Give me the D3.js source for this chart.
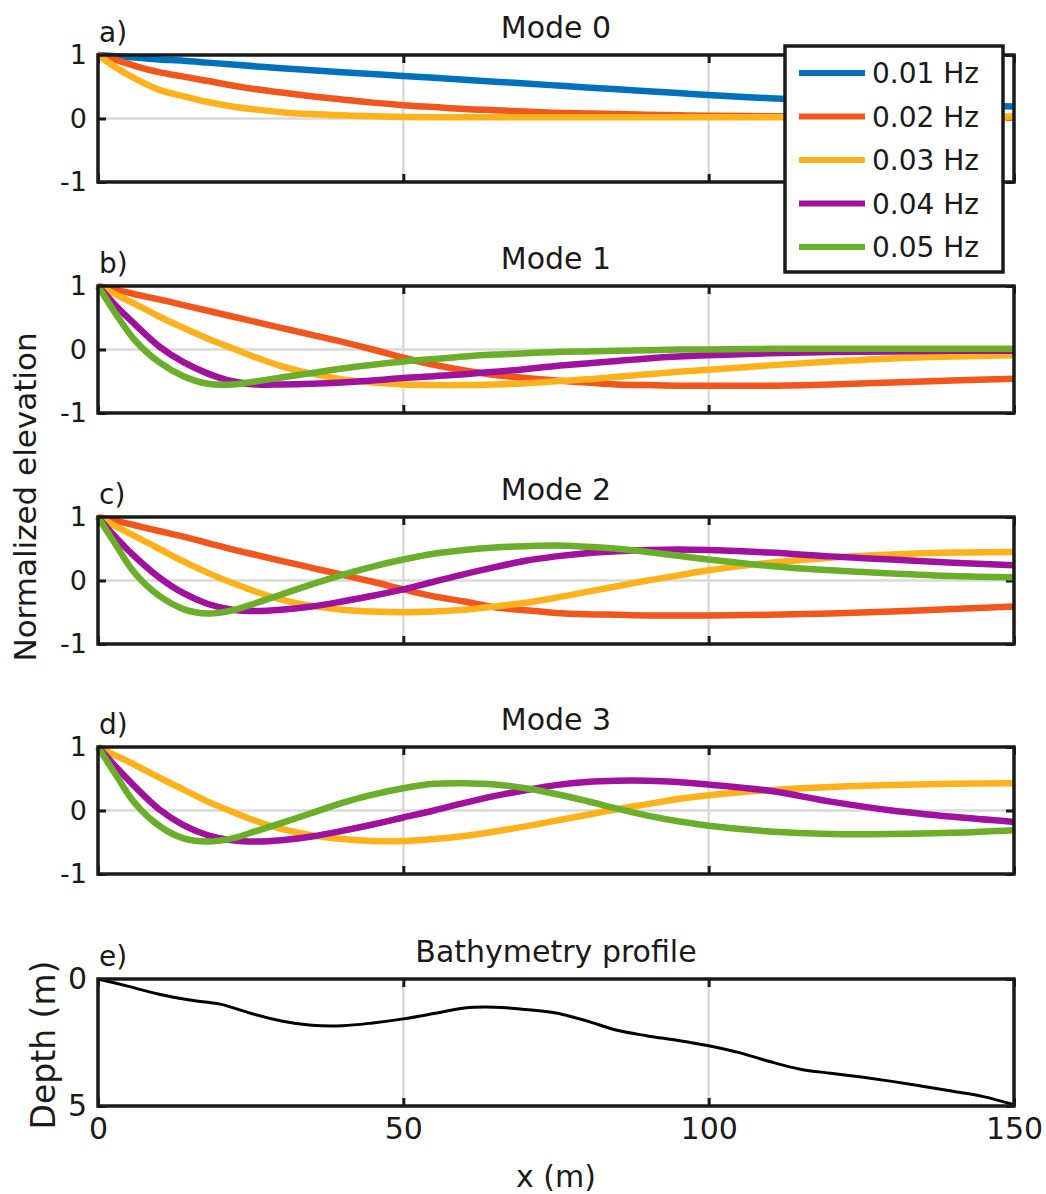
<!DOCTYPE html>
<meta charset="utf-8">
<script src="https://d3js.org/d3.v7.min.js"></script>
<style>
  body { margin: 0; background: #fff; }
  text { font-family: "DejaVu Sans", sans-serif; fill: #1a1a1a; }
</style>
<svg id="fig" width="1046" height="1194"></svg>

<script>
  // ---- data ----
  var freqs = ["0.01 Hz", "0.02 Hz", "0.03 Hz", "0.04 Hz", "0.05 Hz"];
  var xs = [0, 3, 6, 10, 14, 18, 22, 26, 30, 35, 40, 45, 50, 55, 60, 65, 70, 75, 80, 85, 90, 95, 100, 110, 120, 130, 140, 150];

  // mode 0
  var m0_01 = [1, .98, .96, .93, .91, .88, .85, .82, .79, .76, .73, .70, .67, .64, .61, .58, .55, .52, .49, .46, .43, .40, .37, .32, .28, .24, .21, .19];
  var m0_02 = [1, .92, .83, .73, .66, .59, .52, .46, .41, .35, .30, .25, .21, .18, .15, .13, .11, .09, .08, .07, .06, .05, .045, .035, .03, .025, .02, .02];
  var m0_03 = [1, .80, .63, .45, .35, .26, .19, .14, .10, .07, .05, .035, .025, .02, .02, .02, .02, .02, .02, .02, .02, .02, .02, .02, .02, .02, .03, .03];

  // mode 1
  var m1_02 = [1, .94, .87, .79, .70, .61, .52, .43, .34, .23, .12, 0, -.13, -.24, -.33, -.40, -.45, -.49, -.52, -.55, -.56, -.57, -.57, -.57, -.55, -.52, -.49, -.46];
  var m1_03 = [1, .86, .72, .52, .34, .17, .02, -.13, -.26, -.38, -.47, -.52, -.55, -.56, -.56, -.55, -.53, -.50, -.47, -.43, -.39, -.35, -.32, -.25, -.19, -.14, -.11, -.09];
  var m1_04 = [1, .68, .40, .05, -.20, -.38, -.50, -.55, -.55, -.54, -.52, -.49, -.45, -.42, -.39, -.35, -.31, -.26, -.22, -.18, -.14, -.11, -.09, -.06, -.04, -.03, -.02, -.02];
  var m1_05 = [1, .55, .15, -.20, -.42, -.54, -.55, -.50, -.44, -.37, -.30, -.24, -.19, -.15, -.11, -.08, -.06, -.04, -.03, -.02, -.01, 0, 0, .01, .01, .01, .01, .01];

  // mode 2
  var m2_02 = [1, .94, .87, .78, .69, .59, .49, .40, .31, .20, .09, -.02, -.14, -.25, -.33, -.42, -.47, -.51, -.53, -.54, -.55, -.55, -.55, -.54, -.52, -.49, -.45, -.41];
  var m2_03 = [1, .85, .70, .50, .30, .12, -.04, -.18, -.30, -.40, -.46, -.49, -.50, -.49, -.46, -.41, -.35, -.27, -.18, -.09, 0, .08, .16, .28, .36, .41, .44, .45];
  var m2_04 = [1, .67, .38, .05, -.20, -.37, -.46, -.48, -.46, -.41, -.33, -.24, -.14, -.02, .10, .21, .31, .38, .43, .46, .48, .49, .48, .44, .38, .33, .28, .24];
  var m2_05 = [1, .55, .12, -.24, -.45, -.52, -.47, -.35, -.22, -.06, .09, .22, .33, .42, .48, .52, .54, .55, .53, .50, .45, .39, .33, .23, .16, .11, .07, .05];

  // mode 3
  var m3_03 = [1, .86, .72, .52, .33, .14, -.02, -.17, -.29, -.39, -.45, -.48, -.48, -.45, -.40, -.33, -.25, -.16, -.07, .02, .10, .18, .24, .32, .37, .40, .42, .43];
  var m3_04 = [1, .68, .38, .02, -.23, -.39, -.47, -.49, -.47, -.41, -.32, -.22, -.11, 0, .12, .23, .32, .40, .45, .47, .47, .45, .41, .31, .14, 0, -.10, -.18];
  var m3_05 = [1, .55, .12, -.24, -.44, -.49, -.44, -.32, -.20, -.04, .12, .25, .35, .42, .43, .41, .35, .26, .15, .03, -.08, -.17, -.24, -.33, -.37, -.37, -.35, -.31];

  // bathymetry
  var bathyX = [0, 5, 10, 15, 20, 25, 30, 35, 40, 45, 50, 55, 60, 65, 70, 75, 80, 85, 90, 95, 100, 105, 110, 115, 120, 125, 130, 135, 140, 145, 150];
  var bathyDepth = [0, .29, .6, .83, .99, 1.35, 1.65, 1.82, 1.84, 1.73, 1.57, 1.36, 1.14, 1.11, 1.2, 1.34, 1.65, 2.02, 2.24, 2.42, 2.63, 2.9, 3.25, 3.55, 3.71, 3.86, 4.03, 4.22, 4.42, 4.63, 4.95];

  var xTicks = [0, 50, 100, 150];
  var yTicks = [-1, 0, 1];
  var depthTicks = [0, 5];

  // ---- styles ----
  var colors = ["#0072BD", "#F2561D", "#FDB21B", "#A0119E", "#6BAE2A"];

  var panels = [
    { tag: "a)", title: "Mode 0", series: [[0, m0_01], [1, m0_02], [2, m0_03]] },
    { tag: "b)", title: "Mode 1", series: [[1, m1_02], [2, m1_03], [3, m1_04], [4, m1_05]] },
    { tag: "c)", title: "Mode 2", series: [[1, m2_02], [2, m2_03], [3, m2_04], [4, m2_05]] },
    { tag: "d)", title: "Mode 3", series: [[2, m3_03], [3, m3_04], [4, m3_05]] }
  ];
  var tops = [55, 286, 517, 747, 979];
  var ph = 127;

  var svg = d3.select("#fig");
  var x = d3.scaleLinear().domain([0, 150]).range([98, 1014]);

  function frame(g, y, isBottom, yTickVals, hGrid, tickFont) {
    var bottom = Math.max(y.range()[0], y.range()[1]);
    var top = Math.min(y.range()[0], y.range()[1]);

    // grid
    g.selectAll(".gx").data([50, 100]).enter().append("line")
      .attr("x1", function(d){ return x(d) }).attr("x2", function(d){ return x(d) })
      .attr("y1", top).attr("y2", bottom)
      .attr("stroke", "#d9d9d9").attr("stroke-width", 2.5);
    g.selectAll(".gy").data(hGrid).enter().append("line")
      .attr("x1", 98).attr("x2", 1014)
      .attr("y1", function(d){ return y(d) }).attr("y2", function(d){ return y(d) })
      .attr("stroke", "#d9d9d9").attr("stroke-width", 2.5);

    var xb = d3.axisBottom(x).tickValues(xTicks).tickSize(-8).tickPadding(12)
      .tickFormat(isBottom ? String : "");
    var xt = d3.axisTop(x).tickValues(xTicks).tickSize(-8).tickFormat("");
    var yl = d3.axisLeft(y).tickValues(yTickVals).tickSize(-8).tickPadding(11).tickFormat(String);
    var yr = d3.axisRight(y).tickValues(yTickVals).tickSize(-8).tickFormat("");

    var axes = [
      g.append("g").attr("transform", "translate(0," + bottom + ")").call(xb),
      g.append("g").attr("transform", "translate(0," + top + ")").call(xt),
      g.append("g").attr("transform", "translate(98,0)").call(yl),
      g.append("g").attr("transform", "translate(1014,0)").call(yr)
    ];
    axes.forEach(function(a) {
      a.select(".domain").remove();
      a.selectAll("line").attr("stroke", "#1a1a1a").attr("stroke-width", 3);
      a.selectAll("text").style("font-size", tickFont + "px").attr("fill", "#1a1a1a")
        .style("font-family", "DejaVu Sans");
    });
  }

  var line = d3.line().curve(d3.curveCatmullRom.alpha(0.5));

  panels.forEach(function(p, i) {
    var t = tops[i];
    var y = d3.scaleLinear().domain([-1, 1]).range([t + ph, t]);
    var g = svg.append("g");
    frame(g, y, false, yTicks, [0], 27);

    p.series.forEach(function(s) {
      var vals = s[1];
      g.append("path")
        .attr("d", line(xs.map(function(xv, k){ return [x(xv), y(vals[k])] })))
        .attr("fill", "none")
        .attr("stroke", colors[s[0]])
        .attr("stroke-width", 6.5)
        .attr("stroke-linejoin", "round");
    });

    g.append("rect").attr("x", 98).attr("y", t).attr("width", 916).attr("height", ph)
      .attr("fill", "none").attr("stroke", "#1a1a1a").attr("stroke-width", 3.5);

    g.append("text").attr("x", 99).attr("y", t - 13).text(p.tag).style("font-size", "28px");
    g.append("text").attr("x", 556).attr("y", t - 17).attr("text-anchor", "middle")
      .text(p.title).style("font-size", "30px");
  });

  // bathymetry panel
  var tb = tops[4];
  var yd = d3.scaleLinear().domain([0, 5]).range([tb, tb + ph]);
  var gb = svg.append("g");
  frame(gb, yd, true, depthTicks, [], 30);
  gb.append("path")
    .attr("d", line(bathyX.map(function(xv, k){ return [x(xv), yd(bathyDepth[k])] })))
    .attr("fill", "none").attr("stroke", "#000").attr("stroke-width", 3);
  gb.append("rect").attr("x", 98).attr("y", tb).attr("width", 916).attr("height", ph)
    .attr("fill", "none").attr("stroke", "#1a1a1a").attr("stroke-width", 3.5);
  gb.append("text").attr("x", 99).attr("y", tb - 13).text("e)").style("font-size", "28px");
  gb.append("text").attr("x", 556).attr("y", tb - 17).attr("text-anchor", "middle")
    .text("Bathymetry profile").style("font-size", "30px");

  // axis titles
  svg.append("text").attr("x", 556).attr("y", 1187).attr("text-anchor", "middle")
    .text("x (m)").style("font-size", "30px");
  svg.append("text").attr("transform", "translate(36,497) rotate(-90)").attr("text-anchor", "middle")
    .text("Normalized elevation").style("font-size", "31px");
  svg.append("text").attr("transform", "translate(55,1045) rotate(-90)").attr("text-anchor", "middle")
    .text("Depth (m)").style("font-size", "33px");

  // legend
  var lg = svg.append("g");
  lg.append("rect").attr("x", 785).attr("y", 46).attr("width", 218).attr("height", 226)
    .attr("fill", "#fff").attr("stroke", "#1a1a1a").attr("stroke-width", 3.5);
  freqs.forEach(function(f, i) {
    var ly = 73 + i * 43.5;
    lg.append("line").attr("x1", 799).attr("x2", 865).attr("y1", ly).attr("y2", ly)
      .attr("stroke", colors[i]).attr("stroke-width", 6);
    lg.append("text").attr("x", 872).attr("y", ly).attr("dy", "0.36em")
      .text(f).style("font-size", "28px");
  });
</script>
